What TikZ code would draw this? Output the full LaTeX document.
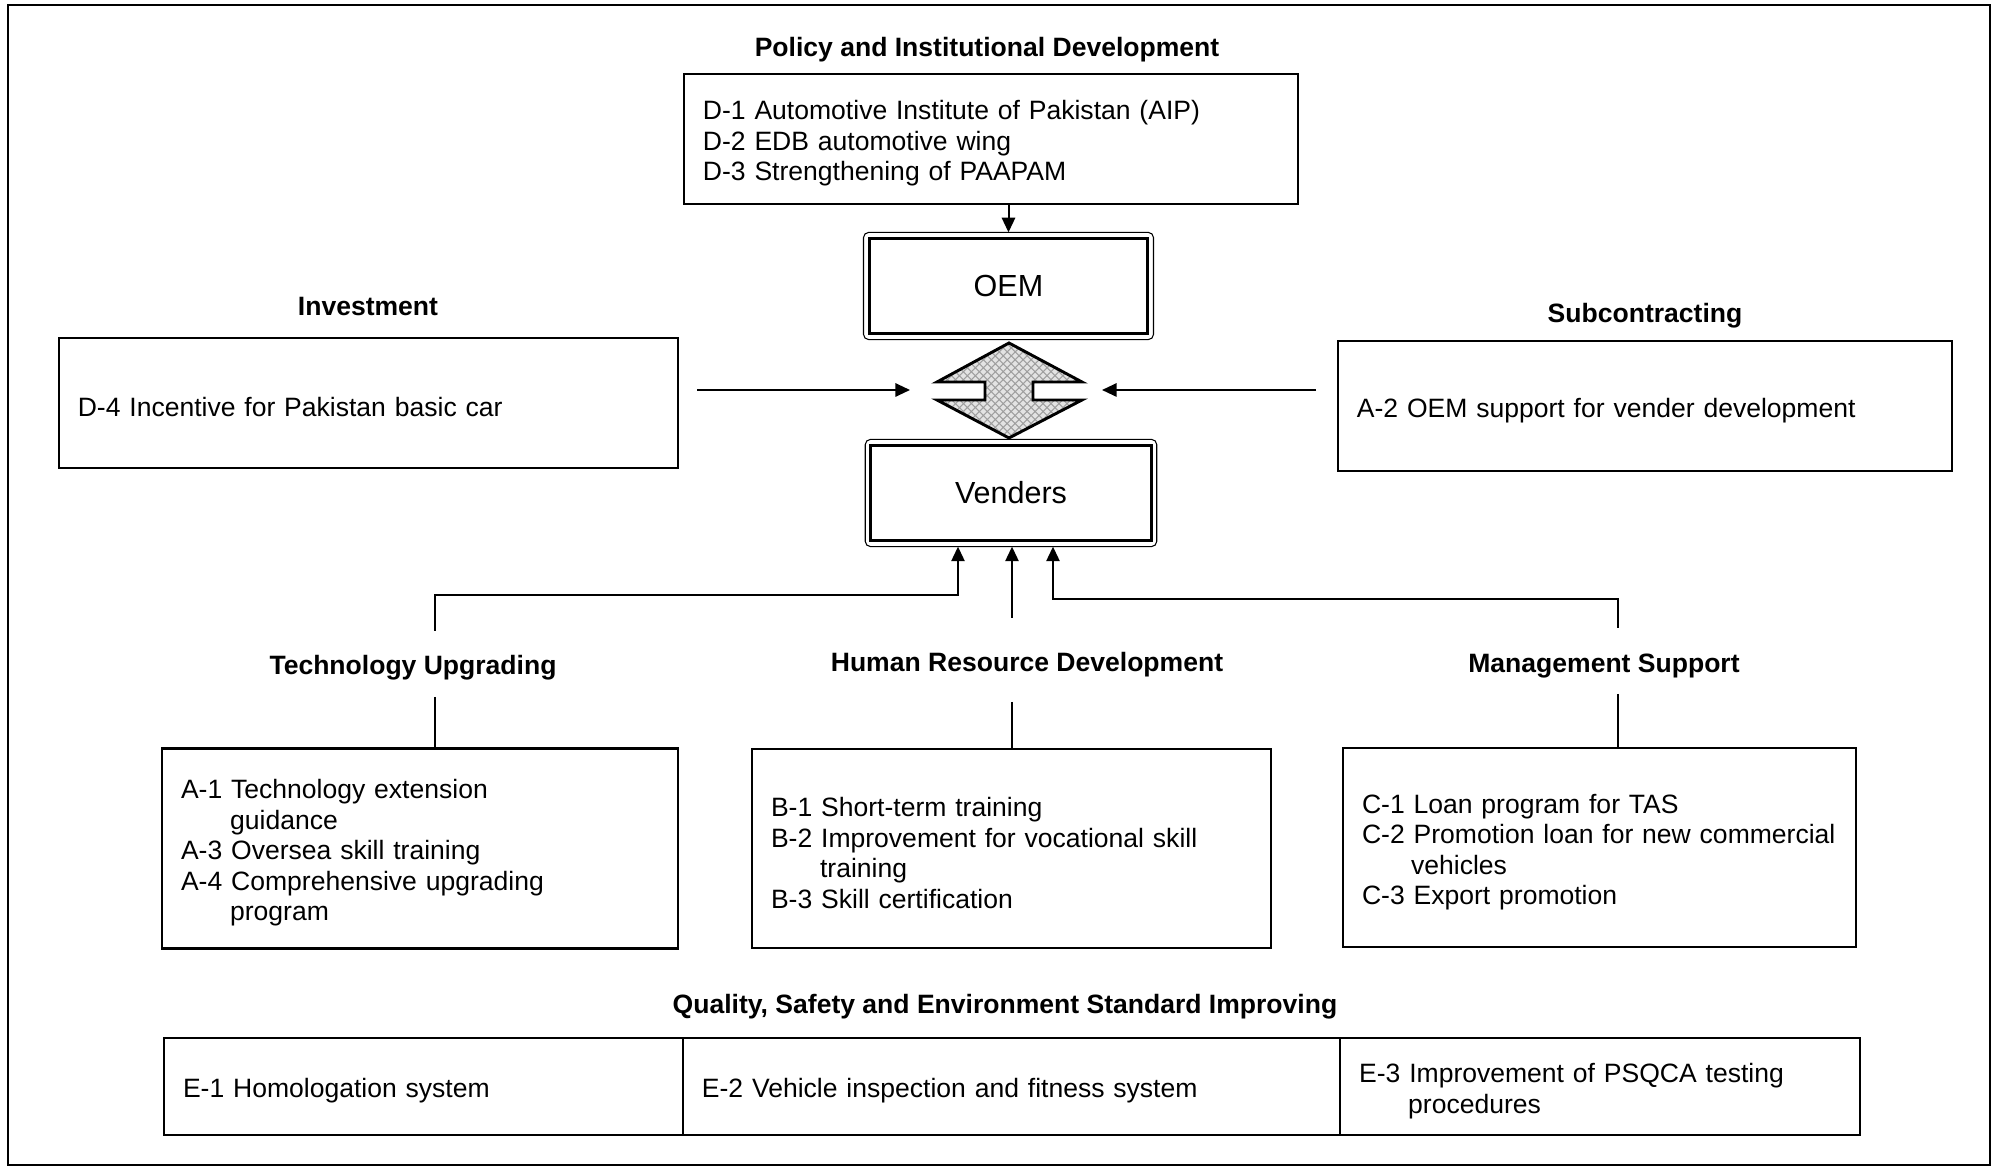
\documentclass[tikz,border=0pt]{standalone}
\usepackage{fontspec}
\setmainfont{Liberation Sans}
\usetikzlibrary{arrows.meta,patterns,positioning}
\newcommand{\einr}{\hspace*{18.5pt}}

\begin{document}
\begin{tikzpicture}[x=0.01324cm, y=-0.01324cm,
      kasten/.style={rectangle, draw=black, line width=0.8pt, inner xsep=0.25cm, inner ysep=0pt, align=left, font=\fontsize{10}{11.5}\selectfont, execute at begin node={\rule{0pt}{10.6pt}}},
      kopf/.style={font=\fontsize{10}{11.5}\selectfont\bfseries},
      haupt/.style={rectangle, draw=black, line width=1.1pt, inner sep=0pt, font=\fontsize{11.5}{13}\selectfont},
      pfeil/.style={-{Triangle[length=5.5pt,width=5pt]}, line width=0.75pt},
      linie/.style={line width=0.75pt}]

\useasboundingbox (0,0) rectangle (1998,1168);
\draw[line width=1pt] (8,5) rectangle (1990,1165);

\node[kopf] (kd) at (987,50) {Policy and Institutional Development};
\node[kasten, text width=7.63cm, minimum height=1.72cm] (d) at (991,139) {D-1 Automotive Institute of Pakistan (AIP)\\D-2 EDB automotive wing\\D-3 Strengthening of PAAPAM};

\node[haupt, minimum width=3.69cm, minimum height=1.27cm] (oem) at (1008.5,286) {OEM};
\node[haupt, minimum width=3.71cm, minimum height=1.27cm] (vend) at (1011,493) {Venders};
\draw[line width=0.4pt, rounded corners=2pt] ([shift={(-1.6pt,1.6pt)}]oem.north west) rectangle ([shift={(1.6pt,-1.6pt)}]oem.south east);
\draw[line width=0.4pt, rounded corners=2pt] ([shift={(-1.6pt,1.6pt)}]vend.north west) rectangle ([shift={(1.6pt,-1.6pt)}]vend.south east);

\draw[line width=1.1pt, line join=miter, preaction={fill=gray!22}, pattern=crosshatch, pattern color=gray!75]
  (1009,343) -- (1082,382) -- (1033,382) -- (1033,400) -- (1082,400) -- (1009,438)
  -- (937,400) -- (985,400) -- (985,382) -- (937,382) -- cycle;

\node[kopf] (ki) at (368,307) {Investment};
\node[kasten, text width=7.70cm, minimum height=1.72cm] (inv) at (368.5,403) {D-4 Incentive for Pakistan basic car};
\node[kopf] (ks) at (1645,316) {Subcontracting};
\node[kasten, text width=7.63cm, minimum height=1.72cm] (sub) at (1645,406) {A-2 OEM support for vender development};

\coordinate (iv) at (697,390);
\coordinate (ml) at (910,390);
\coordinate (sv) at (1316,390);
\coordinate (mr) at (1102,390);
\draw[pfeil] (iv) -- (ml);
\draw[pfeil] (sv) -- (mr);
\draw[pfeil, shorten >=1.6pt] (d.south -| oem.north) -- (oem.north);

\node[kopf] (kt) at (413,668) {Technology Upgrading};
\node[kopf] (kh) at (1027,665) {Human Resource Development};
\node[kopf] (km) at (1604,666) {Management Support};

\node[kasten, text width=6.33cm, minimum height=2.65cm] (a) at (420,848.5) {A-1 Technology extension\\\einr guidance\\A-3 Oversea skill training\\A-4 Comprehensive upgrading\\\einr program};
\node[kasten, text width=6.37cm, minimum height=2.63cm] (b) at (1011.5,848.5) {B-1 Short-term training\\B-2 Improvement for vocational skill\\\einr training\\B-3 Skill certification};
\node[kasten, text width=6.29cm, minimum height=2.63cm] (c) at (1599.5,847.5) {C-1 Loan program for TAS\\C-2 Promotion loan for new commercial\\\einr vehicles\\C-3 Export promotion};

\coordinate (ta) at (435,631);
\coordinate (kl) at (958,595);
\coordinate (hb) at (1012,618);
\coordinate (tc) at (1618,628);
\coordinate (kr) at (1053,599);
\draw[pfeil, shorten >=1.6pt] (ta) |- (kl) -- (kl |- vend.south);
\draw[pfeil, shorten >=1.6pt] (hb) -- (hb |- vend.south);
\draw[pfeil, shorten >=1.6pt] (tc) |- (kr) -- (kr |- vend.south);

\coordinate (ta2) at (435,697);
\coordinate (hb2) at (1012,702);
\coordinate (tc2) at (1618,694);
\draw[linie] (ta2) -- (ta2 |- a.north);
\draw[linie] (hb2) -- (hb2 |- b.north);
\draw[linie] (tc2) -- (tc2 |- c.north);

\node[kopf] (kq) at (1005,1007) {Quality, Safety and Environment Standard Improving};
\node[kasten, text width=6.37cm, minimum height=1.28cm] (e1) at (423.5,1086.5) {E-1 Homologation system};
\node[kasten, text width=8.20cm, minimum height=1.28cm] (e2) at (1011.5,1086.5) {E-2 Vehicle inspection and fitness system};
\node[kasten, text width=6.38cm, minimum height=1.28cm] (e3) at (1600,1086.5) {E-3 Improvement of PSQCA testing\\\einr procedures};

\end{tikzpicture}
\end{document}
